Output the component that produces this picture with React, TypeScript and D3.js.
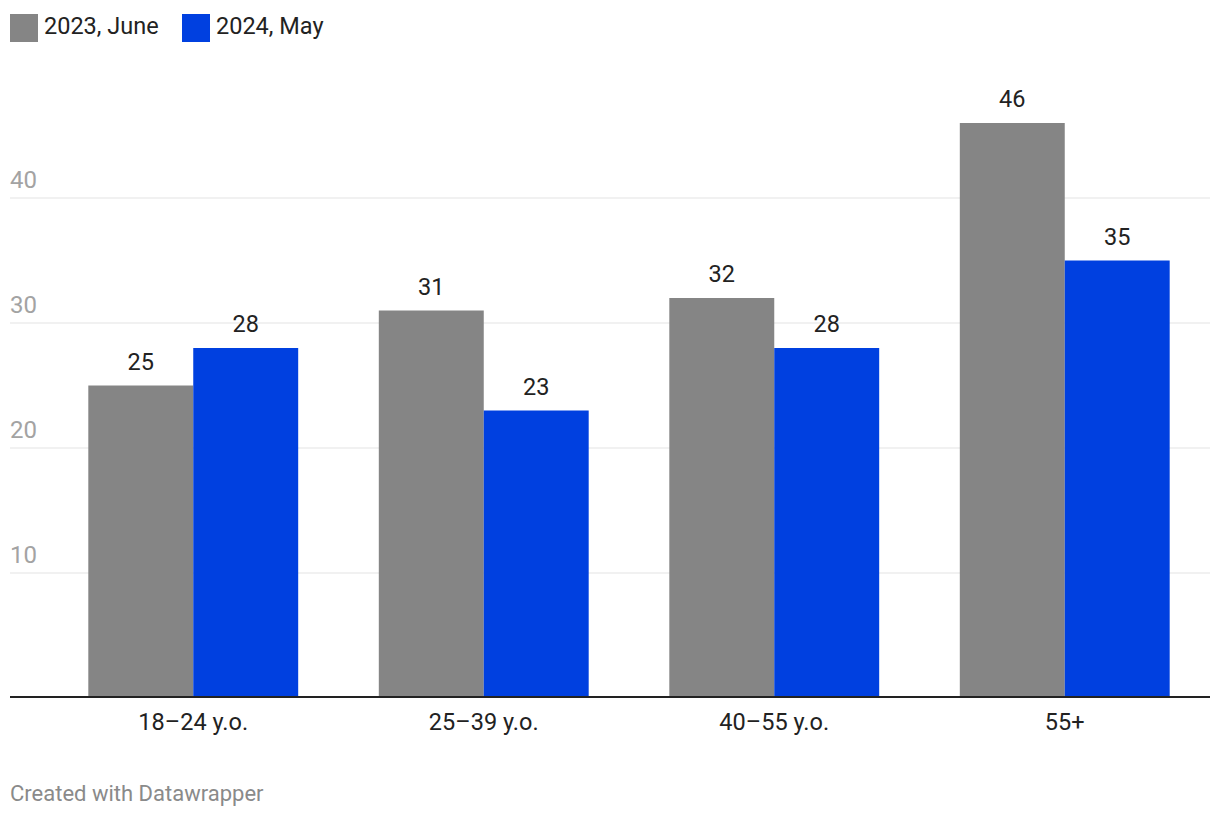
import React from "react";
import * as d3 from "d3";

const categories = ["18–24 y.o.", "25–39 y.o.", "40–55 y.o.", "55+"];
const seriesNames = ["2023, June", "2024, May"];
const values2023 = [25, 31, 32, 46];
const values2024 = [28, 23, 28, 35];
const yTicks = [10, 20, 30, 40];
const colors = ["#858585", "#0040e0"];

const W = 1220;
const H = 820;
const FONT = "Roboto, 'Noto Sans', sans-serif";

export default function App() {
  const x = d3.scaleBand<string>().domain(categories).range([48, 1210]).paddingInner(0.2775).paddingOuter(0.13875);
  const xs = d3.scaleBand<string>().domain(seriesNames).range([0, x.bandwidth()]).padding(0);
  const y = d3.scaleLinear().domain([0, 10]).range([698, 573]);
  const series = [values2023, values2024];

  return (
    <svg width={W} height={H} style={{ position: "absolute", left: 0, top: 0, fontFamily: FONT }}>
      <rect width={W} height={H} fill="#fff" />
      <g>
        <rect x={10} y={14} width={28} height={28} fill={colors[0]} />
        <text x={44} y={34} fontSize={23.5} fill="#222">{seriesNames[0]}</text>
        <rect x={182} y={14} width={28} height={28} fill={colors[1]} />
        <text x={216} y={34} fontSize={23.5} fill="#222">{seriesNames[1]}</text>
      </g>
      {yTicks.map((t) => (
        <g key={t}>
          <line x1={10} x2={1210} y1={y(t)} y2={y(t)} stroke="#e3e3e3" strokeWidth={1} />
          <text x={10} y={y(t) - 10} fontSize={24} fill="#a3a3a3">{t}</text>
        </g>
      ))}
      {categories.map((c, i) => (
        <g key={c} transform={`translate(${x(c)},0)`}>
          {seriesNames.map((s, j) => {
            const v = series[j][i];
            const bx = xs(s)!;
            return (
              <g key={s}>
                <rect x={bx} y={y(v)} width={xs.bandwidth()} height={y(0) - y(v)} fill={colors[j]} />
                <text x={bx + xs.bandwidth() / 2} y={y(v) - 16} textAnchor="middle" fontSize={23.5} fill="#222">{v}</text>
              </g>
            );
          })}
          <text x={x.bandwidth() / 2} y={730} textAnchor="middle" fontSize={23.5} fill="#222">{c}</text>
        </g>
      ))}
      <line x1={10} x2={1210} y1={697} y2={697} stroke="#222" strokeWidth={2} />
      <text x={10} y={801} fontSize={22} fill="#8a8a8a">Created with Datawrapper</text>
    </svg>
  );
}
